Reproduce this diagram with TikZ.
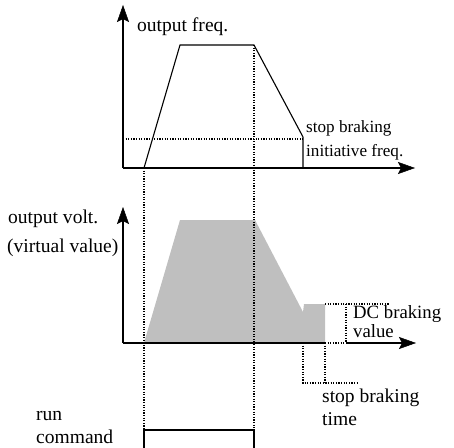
\documentclass[tikz,border=0pt]{standalone}
\usepackage{fontspec}
\setmainfont{Liberation Serif}
\usetikzlibrary{arrows.meta}
\begin{document}
\begin{tikzpicture}[x=1bp,y=-1bp,
  axis/.style={line width=1.4bp},
  axarrow/.style={line width=1.4bp,-{Stealth[length=17bp,width=12bp,inset=3bp,line width=0.5bp]}},
  curve/.style={line width=1.1bp},
  dots/.style={line width=1.3bp,dash pattern=on 1.2bp off 1.4bp},
  lbl/.style={anchor=base west,inner sep=0pt,font=\fontsize{19.6}{23}\selectfont},
  mlbl/.style={anchor=base west,inner sep=0pt,font=\fontsize{18.8}{22}\selectfont},
  slbl/.style={anchor=base west,inner sep=0pt,font=\fontsize{17.2}{20}\selectfont},
  shade/.style={fill=black!25,draw=none}]
\useasboundingbox (0,0) rectangle (454,448);
% ---- coordinates
\coordinate (O1) at (123,168);
\coordinate (Y1) at (123,5);
\coordinate (X1) at (415,168);
\coordinate (O2) at (123,343);
\coordinate (Y2) at (123,207);
\coordinate (X2) at (416,343);
\coordinate (A1) at (144,168);
\coordinate (B1) at (180,45);
\coordinate (C1) at (254,45);
\coordinate (D1) at (303,137);
\coordinate (E1) at (303,168);
\coordinate (F1) at (123,139);
\coordinate (G1) at (303,139);
% middle shape
\coordinate (A2) at (144,343);
\coordinate (B2) at (180,220);
\coordinate (C2) at (255,220);
\coordinate (D2) at (303,312);
\coordinate (D3) at (304,304);
\coordinate (E2) at (325,304);
\coordinate (F2) at (325,343);
\coordinate (H2) at (346,304);
\coordinate (I2) at (346,343);
\coordinate (J2) at (390,304);
% braking time box
\coordinate (K1) at (303,343);
\coordinate (K2) at (303,383);
\coordinate (K3) at (325,383);
\coordinate (K4) at (357,383);
% run command
\coordinate (R1) at (144,448);
\coordinate (R2) at (144,430);
\coordinate (R3) at (254,430);
\coordinate (R4) at (254,448);
% ---- gray fill
\fill[shade] (A2) -- (B2) -- (C2) -- (D2) -- (D3) -- (E2) -- (F2) -- cycle;
% ---- dotted guides
\draw[dots] (F1) -- (G1);
\draw[dots] (A1) -- (R2);
\draw[dots] (C1) -- (R3);
\draw[dots] (E2) -- (J2);
\draw[dots] (H2) -- (I2);
\draw[dots] (F2) -- (I2);
\draw[dots] (K1) -- (K2) -- (K4);
\draw[dots] (F2) -- (K3);
% ---- axes
\draw[axarrow] (O1) -- (Y1);
\draw[axarrow] (O1) -- (X1);
\draw[axarrow] (O2) -- (Y2);
\draw[axis] (O2) -- (F2);
\draw[axarrow] (I2) -- (X2);
% ---- frequency curve
\draw[curve] (A1) -- (B1) -- (C1) -- (D1) -- (E1);
% ---- run command
\draw[curve] (R1) -- (R2) -- (R3) -- (R4);
% ---- labels
\node[lbl] (of) at (137,32) {output freq.};
\node[slbl] (sb1) at (306,133) {stop braking};
\node[slbl] (if) at (306,157) {initiative freq.};
\node[lbl] (ov) at (8,224) {output volt.};
\node[lbl] (vv) at (7,252) {(virtual value)};
\node[mlbl] (dc) at (353,318) {DC braking};
\node[mlbl] (va) at (353,337) {value};
\node[lbl] (sb2) at (322,402) {stop braking};
\node[lbl] (ti) at (322,425) {time};
\node[lbl] (ru) at (36,420) {run};
\node[lbl] (co) at (36,443) {command};
\end{tikzpicture}
\end{document}
